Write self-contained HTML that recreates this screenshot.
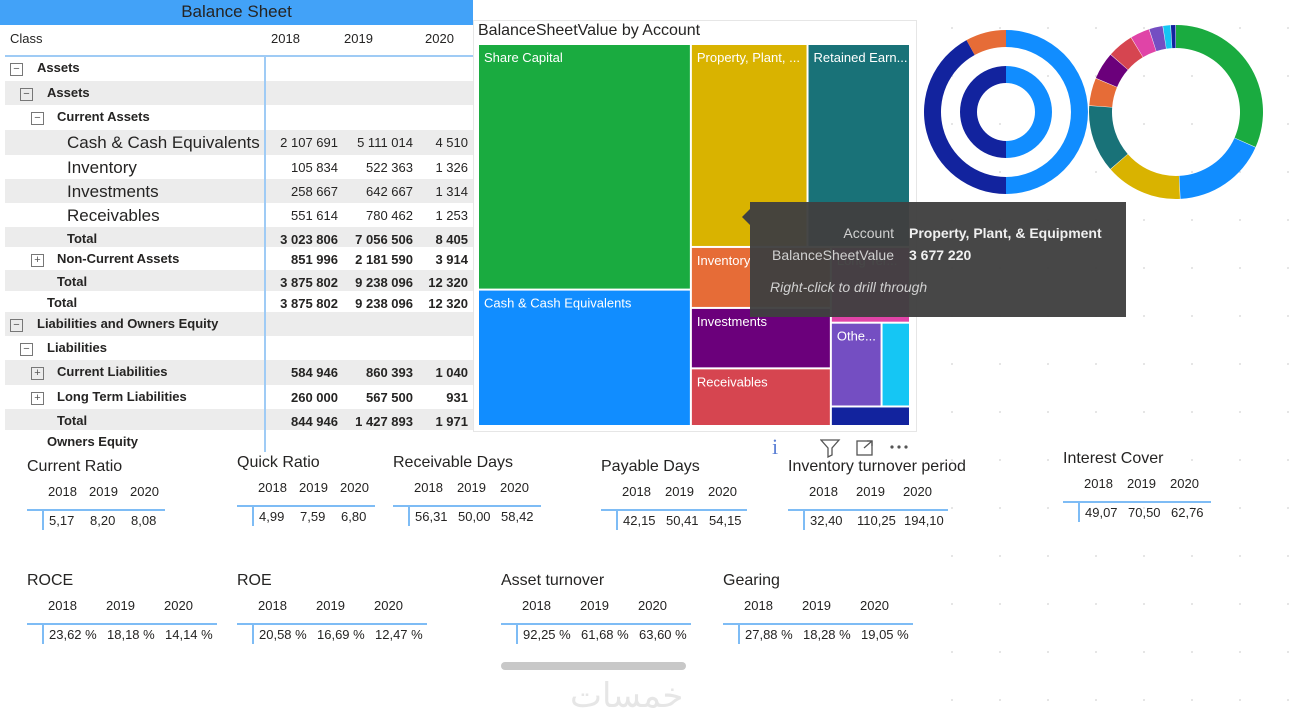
<!DOCTYPE html>
<html><head><meta charset="utf-8">
<style>
body{margin:0;width:1301px;height:728px;overflow:hidden;background:#fff;font-family:"Liberation Sans",sans-serif;color:#252423;position:relative}
.a{position:absolute;white-space:nowrap}
.row{position:absolute;left:5px;width:468px;height:24px}
.g{background:#ececec}
.lbl{position:absolute;font-size:13px;font-weight:bold;top:4px}
.num{position:absolute;font-size:13px;top:5px;text-align:right}
.box{position:absolute;width:11px;height:11px;border:1.5px solid #777;top:7px;font-size:11px;line-height:10px;text-align:center;color:#555}
</style></head><body>
<div class="a" style="left:916px;top:0;width:385px;height:728px;background-image:radial-gradient(#c4c4c4 0.6px,transparent 0.9px);background-size:48px 48px;background-position:12px 4px"></div>

<div class="a" style="left:0;top:0;width:473px;height:25px;background:#42a2f8;font-size:17px;text-align:center;line-height:24px;color:#252423">Balance Sheet</div>
<div id="table"></div>

<div class="a" style="left:473px;top:20px;width:442px;height:410px;border:1px solid #e6e6e6;background:#fff"></div>
<div class="a" style="left:478px;top:22px;font-size:16px">BalanceSheetValue by Account</div>
<svg id="tm" class="a" style="left:0;top:0" width="1301" height="728"></svg>

<div class="a" style="left:742px;top:209px;width:0;height:0;border-top:8px solid transparent;border-bottom:8px solid transparent;border-right:8px solid #404040"></div>
<div class="a" style="left:750px;top:202px;width:376px;height:115px;background:rgba(64,64,64,0.96);color:#ddd;font-size:14px">
 <div class="a" style="right:232px;top:23px;color:#d0d0d0">Account</div>
 <div class="a" style="left:159px;top:23px;font-weight:bold;color:#f0f0f0">Property, Plant, &amp; Equipment</div>
 <div class="a" style="right:232px;top:45px;color:#d0d0d0">BalanceSheetValue</div>
 <div class="a" style="left:159px;top:45px;font-weight:bold;color:#f0f0f0">3 677 220</div>
 <div class="a" style="left:20px;top:77px;font-style:italic;color:#d0d0d0">Right-click to drill through</div>
</div>

<div class="a" style="left:772px;top:434px;font-size:22px;color:#5b7fd4;font-family:'Liberation Serif',serif">i</div>
<svg class="a" style="left:820px;top:438px" width="95" height="20">
 <path d="M1 2h18l-7 8v7l-4 2v-9z" fill="none" stroke="#555" stroke-width="1.3"/>
 <rect x="37" y="3" width="15" height="14" fill="none" stroke="#555" stroke-width="1.3"/><path d="M44 10l8-7M47 3h5v5" stroke="#555" fill="none" stroke-width="1.3"/>
 <circle cx="72" cy="9" r="1.6" fill="#555"/><circle cx="79" cy="9" r="1.6" fill="#555"/><circle cx="86" cy="9" r="1.6" fill="#555"/>
</svg>

<svg id="donuts" class="a" style="left:0;top:0" width="1301" height="728"></svg>
<div id="cards"></div>

<div class="a" style="left:501px;top:662px;width:185px;height:8px;border-radius:4px;background:#c8c8c8"></div>
<div class="a" style="left:570px;top:676px;font-size:34px;color:#e6e6e6;font-family:'DejaVu Sans',sans-serif">خمسات</div>

<script>
// ---------- Matrix data ----------
const rowLabels=["Assets","Assets","Current Assets","Cash & Cash Equivalents","Inventory","Investments","Receivables","Total","Non-Current Assets","Total","Total","Liabilities and Owners Equity","Liabilities","Current Liabilities","Long Term Liabilities","Total","Owners Equity"];
const rowLevels=[0,1,2,3,3,3,3,3,2,2,1,0,1,2,2,2,1];
const rowBoxes=["-","-","-","","","","","","+","","","-","-","+","+","",""];
const rowTops=[56,81,105,130,155,179,203,227,247,270,291,312,336,360,385,409,430];
const v2018=["","","","2 107 691","105 834","258 667","551 614","3 023 806","851 996","3 875 802","3 875 802","","","584 946","260 000","844 946",""];
const v2019=["","","","5 111 014","522 363","642 667","780 462","7 056 506","2 181 590","9 238 096","9 238 096","","","860 393","567 500","1 427 893",""];
const v2020=["","","","4 510","1 326","1 314","1 253","8 405","3 914","12 320","12 320","","","1 040","931","1 971",""];
const tbl=document.getElementById('table');
let h='<div class="a" style="left:10px;top:31px;font-size:13px">Class</div><div class="a" style="left:271px;top:31px;font-size:13px">2018</div><div class="a" style="left:344px;top:31px;font-size:13px">2019</div><div class="a" style="left:425px;top:31px;font-size:13px">2020</div><div class="a" style="left:5px;top:55px;width:468px;height:2px;background:#9fcbf5"></div>';
const gray=[1,3,5,7,9,11,13,15];
rowLabels.forEach((l,i)=>{
  const top=rowTops[i], hh=(rowTops[i+1]||452)-top;
  const lv=rowLevels[i], leaf=(i>=3&&i<=6);
  const bold=!leaf;
  const pad=lv===0?32:lv===1?42:lv===2?52:62;
  h+=`<div class="row${gray.includes(i)?' g':''}" style="top:${top}px;height:${hh}px">`;
  if(rowBoxes[i]){const bx=[5,15,26][lv];h+=`<div class="box" style="left:${bx}px">${rowBoxes[i]==='+'?'+':'−'}</div>`;}
  h+=`<div class="lbl" style="left:${pad}px;${leaf?'font-weight:normal;font-size:17px;top:3px;left:62px':''}">${l}</div>`;
  const st=bold?'font-weight:bold;':'';
  h+=`<div class="num" style="${st}right:135px">${v2018[i]}</div><div class="num" style="${st}right:60px">${v2019[i]}</div><div class="num" style="${st}right:5px">${v2020[i]}</div></div>`;
});
h+='<div class="a" style="left:264px;top:56px;width:2px;height:396px;background:#9fcbf5"></div>';
tbl.innerHTML=h;

// ---------- Treemap data ----------
const accounts=["Share Capital","Cash & Cash Equivalents","Property, Plant, ...","Retained Earn...","Inventory","Investments","Receivables","Long Ter...","Othe...","","",""];
const accountValues=[8120000,4510000,3677220,3230000,1326000,1314000,1253000,931000,660000,370000,240000,0];
const accountColors=["#1aab40","#118dff","#d9b300","#197278","#e66c37","#6b007b","#d64550","#e044a7","#744ec2","#15c6f4","#12239e"];
const ns='http://www.w3.org/2000/svg';
const tm=document.getElementById('tm');
const V=i=>accountValues[i], S=a=>a.reduce((s,i)=>s+V(i),0);
function rect(i,x,y,w,h){
  const r=document.createElementNS(ns,'rect');
  r.setAttribute('x',x+1);r.setAttribute('y',y+1);r.setAttribute('width',Math.max(0,w-2));r.setAttribute('height',Math.max(0,h-2));
  r.setAttribute('fill',accountColors[i]);
  
  
  tm.appendChild(r);
  if(accounts[i]&&w>40&&h>20){const t=document.createElementNS(ns,'text');t.setAttribute('x',x+6);t.setAttribute('y',y+18);t.setAttribute('fill','#fff');t.setAttribute('font-size','13');t.setAttribute('font-family','Liberation Sans');t.textContent=accounts[i];
  
  
  tm.appendChild(t);}
}
function stack(ids,x,y,w,h,vert){let tot=S(ids),o=0;ids.forEach(i=>{const f=V(i)/tot;if(vert)rect(i,x,y+o,w,h*f);else rect(i,x+o,y,w*f,h);o+=(vert?h:w)*f;});}
(function(){
 const X=478,Y=44,W=432,H=382;
 const A=[0,1],all=[0,1,2,3,4,5,6,7,8,9,10];
 const wA=W*S(A)/S(all);
 stack(A,X,Y,wA,H,true);
 const bx=X+wA,bw=W-wA,B=[2,3,4,5,6,7,8,9,10];
 const hT=H*S([2,3])/S(B);
 stack([2,3],bx,Y,bw,hT,false);
 const cy=Y+hT,ch=H-hT,C=[4,5,6,7,8,9,10];
 const wD=bw*S([4,5,6])/S(C);
 stack([4,5,6],bx,cy,wD,ch,true);
 const ex=bx+wD,ew=bw-wD,E=[7,8,9,10];
 const h7=ch*V(7)/S(E),hF=ch*S([8,9])/S(E);
 rect(7,ex,cy,ew,h7);
 stack([8,9],ex,cy+h7,ew,hF,false);
 rect(10,ex,cy+h7+hF,ew,ch-h7-hF);
})();

// ---------- Donut data ----------
const outerRingValues=[12320,10349,1971];
const outerRingColors=["#118dff","#12239e","#e66c37"];
const innerRingValues=[12320,12320];
const innerRingColors=["#118dff","#12239e"];
const dn=document.getElementById('donuts');
function arc(cx,cy,r0,r1,a0,a1,col,name){
  const p=(r,a)=>[cx+r*Math.sin(a),cy-r*Math.cos(a)];
  const lg=(a1-a0)>Math.PI?1:0;
  const [x1,y1]=p(r1,a0),[x2,y2]=p(r1,a1),[x3,y3]=p(r0,a1),[x4,y4]=p(r0,a0);
  const e=document.createElementNS(ns,'path');
  e.setAttribute('d',`M${x1} ${y1}A${r1} ${r1} 0 ${lg} 1 ${x2} ${y2}L${x3} ${y3}A${r0} ${r0} 0 ${lg} 0 ${x4} ${y4}Z`);
  e.setAttribute('fill',col);
  
  
  dn.appendChild(e);
}
function ring(vals,cols,cx,cy,r0,r1,name,gap){const t=vals.reduce((a,b)=>a+b,0);let a=0;vals.forEach((v,i)=>{const b=a+v/t*2*Math.PI;arc(cx,cy,r0,r1,a,b-(gap||0),cols[i],name);a=b;});}
ring(outerRingValues,outerRingColors,1006,112,65,82,'outer-ring-slice');
ring(innerRingValues,innerRingColors,1006,112,29,46,'inner-ring-slice');
ring(accountValues.slice(0,11),accountColors,1176,112,64,87,'account-donut-slice',0.006);

// ---------- KPI cards ----------
const cardTitles=["Current Ratio","Quick Ratio","Receivable Days","Payable Days","Inventory turnover period","Interest Cover","ROCE","ROE","Asset turnover","Gearing"];
const cardYears=["2018","2019","2020"];
const cardV2018=["5,17","4,99","56,31","42,15","32,40","49,07","23,62 %","20,58 %","92,25 %","27,88 %"];
const cardV2019=["8,20","7,59","50,00","50,41","110,25","70,50","18,18 %","16,69 %","61,68 %","18,28 %"];
const cardV2020=["8,08","6,80","58,42","54,15","194,10","62,76","14,14 %","12,47 %","63,60 %","19,05 %"];
const cardPos=[[27,458,41,138],[237,454,41,138],[393,454,43,148],[601,458,43,146],[788,458,47,160],[1063,450,43,148],[27,572,58,190],[237,572,58,190],[501,572,58,190],[723,572,58,190]];
const cd=document.getElementById('cards');let c='';
cardTitles.forEach((t,i)=>{const [x,y,sp,w]=cardPos[i];
 c+=`<div class="a" style="left:${x}px;top:${y}px;width:${w}px;height:80px">`;
 c+=`<div class="a" style="left:0;top:0;font-size:16px">${t}</div>`;
 cardYears.forEach((yr,j)=>{c+=`<div class="a" style="left:${21+j*sp}px;top:26px;font-size:13px">${yr}</div>`;});
 c+=`<div class="a" style="left:0;top:51px;width:${w}px;height:2px;background:#7ebcf5"></div><div class="a" style="left:15px;top:51px;width:2px;height:21px;background:#7ebcf5"></div>`;
 [cardV2018[i],cardV2019[i],cardV2020[i]].forEach((v,j)=>{c+=`<div class="a" style="left:${22+j*sp}px;top:55px;font-size:13px">${v}</div>`;});
 c+='</div>';});
cd.innerHTML=c;
</script>
</body></html>
